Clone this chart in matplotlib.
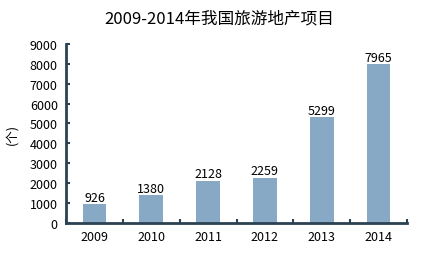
import numpy as np
import matplotlib
matplotlib.use("Agg")
import matplotlib.pyplot as plt

plt.rcParams['font.family'] = ['Noto Sans CJK SC', 'DejaVu Sans']

years = ["2009", "2010", "2011", "2012", "2013", "2014"]
projects = [926, 1380, 2128, 2259, 5299, 7965]
yticks = [0, 1000, 2000, 3000, 4000, 5000, 6000, 7000, 8000, 9000]

bar_color = "#87a9c6"
spine_color = "#2b4252"

fig = plt.figure(figsize=(4.38, 2.55), dpi=100)
ax = fig.add_axes([0.151, 0.122, 0.778, 0.702])

x = np.arange(len(years))
bars = ax.bar(x, projects, width=0.42, color=bar_color)
for xi, v in zip(x, projects):
    ax.text(xi, v + 40, str(v), ha="center", va="bottom", fontsize=9, color="black")

ax.set_xlim(-0.5, len(years) - 0.5)
ax.set_ylim(0, 9000)
ax.set_yticks(yticks)
ax.set_yticklabels([str(t) for t in yticks], fontsize=9)

# ticks between categories
ax.set_xticks(np.arange(-0.5, len(years), 1.0))
ax.set_xticklabels([])
ax.set_xticks(x, minor=True)
ax.set_xticklabels(years, minor=True, fontsize=9)
ax.tick_params(axis="x", which="major", direction="in", length=3, width=1.5, color=spine_color)
ax.tick_params(axis="x", which="minor", length=0, pad=5)
ax.tick_params(axis="y", direction="in", length=3, width=1.5, color=spine_color, pad=6)

for s in ["top", "right"]:
    ax.spines[s].set_visible(False)
for s in ["left", "bottom"]:
    ax.spines[s].set_color(spine_color)
    ax.spines[s].set_linewidth(2)

ax.set_ylabel("(个)", fontsize=9, labelpad=8)
fig.suptitle("2009-2014年我国旅游地产项目", fontsize=12, y=0.96)

plt.savefig("out.png", dpi=100)
